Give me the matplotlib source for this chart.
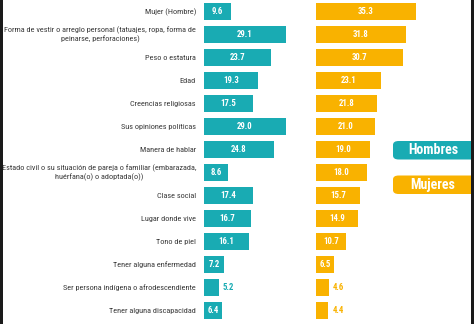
import matplotlib
matplotlib.use("Agg")
import matplotlib.pyplot as plt
from matplotlib.patches import FancyBboxPatch, Rectangle

categorias = [
    "Mujer (Hombre)",
    "Forma de vestir o arreglo personal (tatuajes, ropa, forma de\npeinarse, perforaciones)",
    "Peso o estatura",
    "Edad",
    "Creencias religiosas",
    "Sus opiniones políticas",
    "Manera de hablar",
    "Estado civil o su situación de pareja o familiar (embarazada,\nhuérfana(o) o adoptada(o))",
    "Clase social",
    "Lugar donde vive",
    "Tono de piel",
    "Tener alguna enfermedad",
    "Ser persona indígena o afrodescendiente",
    "Tener alguna discapacidad",
]
hombres = [9.6, 29.1, 23.7, 19.3, 17.5, 29.0, 24.8, 8.6, 17.4, 16.7, 16.1, 7.2, 5.2, 6.4]
mujeres = [35.3, 31.8, 30.7, 23.1, 21.8, 21.0, 19.0, 18.0, 15.7, 14.9, 10.7, 6.5, 4.6, 4.4]
series = ["Hombres", "Mujeres"]

TEAL = "#19abb3"
ORANGE = "#f9b200"
GRAY = "#3a3a3a"
FONT = ["Roboto Condensed", "Archivo Narrow", "Liberation Sans", "DejaVu Sans"]

W, H = 474, 324
fig = plt.figure(figsize=(W / 100, H / 100), dpi=100)
fig.patch.set_facecolor("white")

n = len(categorias)
row_px = 23.0
first_px = 11.7
y_top = -first_px / row_px
y_bot = (H - first_px) / row_px
px_per_unit = 2.82


def make_axes(left_px, right_px):
    ax = fig.add_axes([left_px / W, 0, (right_px - left_px) / W, 1])
    ax.set_xlim(0, (right_px - left_px) / px_per_unit)
    ax.set_ylim(y_bot, y_top)
    ax.axis("off")
    return ax


ax_h = make_axes(204, 300)
ax_m = make_axes(316, 420)

ypos = list(range(n))
for ax, vals, color in ((ax_h, hombres, TEAL), (ax_m, mujeres, ORANGE)):
    ax.barh(ypos, vals, height=0.74, color=color, edgecolor="none")
    for y, v in zip(ypos, vals):
        if v >= 6:
            ax.text(v / 2, y, f"{v:.1f}", ha="center", va="center", color="white",
                    fontsize=6.3, fontweight="bold", family=FONT)
        else:
            ax.text(v + 1.4, y, f"{v:.1f}", ha="left", va="center", color=color,
                    fontsize=6.3, fontweight="bold", family=FONT)

# category labels
for y, cat in zip(ypos, categorias):
    ax_h.text(-8 / px_per_unit, y, cat, ha="right", va="center", multialignment="center",
              color=GRAY, fontsize=5.95, family=FONT, linespacing=1.35)

# legend boxes
for i, (name, color) in enumerate(zip(series, (TEAL, ORANGE))):
    top = 141 + i * 34.5
    box = FancyBboxPatch((393 / W, 1 - (top + 18.5) / H), 84 / W, 18.5 / H,
                         boxstyle="round,pad=0,rounding_size=0.012",
                         transform=fig.transFigure, facecolor=color, edgecolor="none")
    fig.patches.append(box)
    fig.text(433 / W, 1 - (top + 9.5) / H, name, ha="center", va="center", color="white",
             fontsize=10, fontweight="bold", family=FONT)

# frame lines on the sides
fig.patches.append(Rectangle((0, 0), 2.5 / W, 1, transform=fig.transFigure,
                             facecolor="#1a1a1a", edgecolor="none"))
fig.patches.append(Rectangle((471 / W, 0), 3 / W, 1, transform=fig.transFigure,
                             facecolor="#1a1a1a", edgecolor="none"))

fig.savefig("out.png", dpi=100, facecolor="white")
